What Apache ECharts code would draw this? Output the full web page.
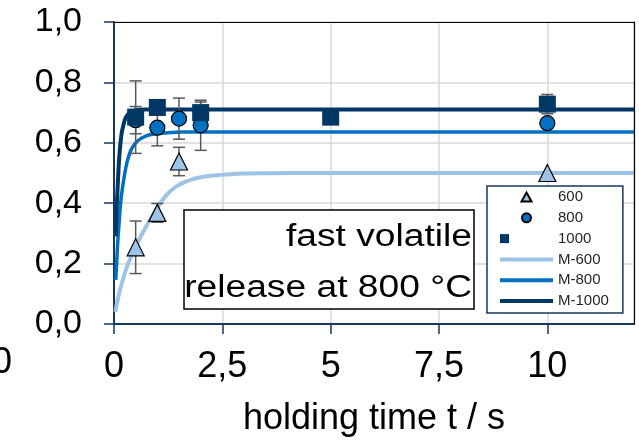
<!DOCTYPE html>
<html>
<head>
<meta charset="utf-8">
<script src="https://cdn.jsdelivr.net/npm/echarts@6/dist/echarts.min.js"></script>
<style>
  html, body { margin: 0; padding: 0; background: #fff; }
  #chart { width: 639px; height: 442px; }
</style>
</head>
<body>
<div id="chart"></div>
<script>
// Measured volatile release vs. holding time, per temperature (°C)
const t600 = [0.5, 1, 1.5, 10];
const v600 = [0.254, 0.368, 0.538, 0.50];
const e600 = [0.087, 0.031, 0.047, 0];

const t800 = [0.5, 1, 1.5, 2, 10];
const v800 = [0.675, 0.65, 0.68, 0.658, 0.665];
const e800 = [0.045, 0.06, 0.068, 0.083, 0];

const t1000 = [0.5, 1, 2, 5, 10];
const v1000 = [0.685, 0.717, 0.70, 0.685, 0.728];
const e1000 = [0.12, 0, 0.035, 0, 0.032];

// Model curves (M-600, M-800, M-1000)
const mt600 = [0.03, 0.1, 0.2, 0.3, 0.4, 0.5, 0.6, 0.7, 0.8, 0.9, 1.0, 1.2, 1.4, 1.6, 1.8, 2.0, 2.3, 2.6, 3.0, 3.5, 4.0, 12];
const mv600 = [0.04, 0.09, 0.145, 0.19, 0.225, 0.255, 0.285, 0.312, 0.338, 0.362, 0.385, 0.425, 0.452, 0.468, 0.479, 0.486, 0.492, 0.495, 0.498, 0.499, 0.5, 0.5];

const mt800 = [0.04, 0.06, 0.08, 0.1, 0.13, 0.16, 0.2, 0.25, 0.3, 0.35, 0.4, 0.5, 0.6, 0.7, 0.8, 1.0, 1.3, 1.6, 12];
const mv800 = [0.146, 0.2, 0.255, 0.3, 0.36, 0.41, 0.455, 0.5, 0.535, 0.56, 0.578, 0.6, 0.612, 0.62, 0.626, 0.631, 0.634, 0.636, 0.636];

const mt1000 = [0.04, 0.05, 0.06, 0.08, 0.1, 0.12, 0.15, 0.18, 0.22, 0.26, 0.3, 0.35, 0.4, 0.5, 0.7, 12];
const mv1000 = [0.29, 0.34, 0.38, 0.44, 0.5, 0.55, 0.6, 0.635, 0.66, 0.68, 0.69, 0.698, 0.703, 0.708, 0.71, 0.71];

// Axis tick labels (decimal comma)
const xTickValues = [0, 2.5, 5, 7.5, 10];
const xTickLabels = ['0', '2,5', '5', '7,5', '10'];
const yTickValues = [0, 0.2, 0.4, 0.6, 0.8, 1.0];
const yTickLabels = ['0,0', '0,2', '0,4', '0,6', '0,8', '1,0'];

const FONT = "'Liberation Sans', Arial, sans-serif";
const C600 = '#9DC3E6';
const C800 = '#0070C0';
const C1000 = '#003764';
const AXIS = '#17375E';
const LINE_ICON = 'path://M0,0L53,0L53,4L0,4Z';
const TRI_ICON = 'path://M5,0L10,9L0,9Z';

function pairs(xs, ys) { return xs.map((x, i) => [x, ys[i]]); }

function labelFor(values, labels) {
  return function (v) {
    const i = values.findIndex(t => Math.abs(t - v) < 1e-9);
    return i >= 0 ? labels[i] : '';
  };
}

// Whiskers drawn as vertical bars with caps
function errorSeries(ts, vs, es) {
  const data = [];
  ts.forEach((t, i) => { if (es[i] > 0) data.push([t, vs[i] - es[i], vs[i] + es[i]]); });
  return {
    type: 'custom', z: 3, silent: true, clip: false,
    data: data,
    encode: { x: 0, y: [1, 2] },
    renderItem: function (params, api) {
      const lo = api.coord([api.value(0), api.value(1)]);
      const hi = api.coord([api.value(0), api.value(2)]);
      const hw = 6;
      const style = { stroke: '#595959', lineWidth: 1.5, fill: null };
      return {
        type: 'group',
        children: [
          { type: 'line', shape: { x1: lo[0], y1: lo[1], x2: hi[0], y2: hi[1] }, style: style },
          { type: 'line', shape: { x1: lo[0] - hw, y1: lo[1], x2: lo[0] + hw, y2: lo[1] }, style: style },
          { type: 'line', shape: { x1: hi[0] - hw, y1: hi[1], x2: hi[0] + hw, y2: hi[1] }, style: style }
        ]
      };
    }
  };
}

function modelSeries(name, xs, ys, color, width) {
  return {
    name: name, type: 'line', z: 2, symbol: 'none', showSymbol: false,
    smooth: 0.3,
    data: pairs(xs, ys),
    lineStyle: { color: color, width: width },
    itemStyle: { color: color }
  };
}

const chart = echarts.init(document.getElementById('chart'));
chart.setOption({
  animation: false,
  backgroundColor: '#fff',
  textStyle: { fontFamily: FONT },
  grid: { left: 114, top: 22, width: 520, height: 306, containLabel: false },
  xAxis: [{
    type: 'value', min: 0, max: 12, interval: 2.5,
    name: 'holding time t / s', nameLocation: 'middle', nameGap: 77,
    nameTextStyle: { fontFamily: FONT, fontSize: 36, color: '#000' },
    axisLine: { show: true, onZero: false, lineStyle: { color: AXIS, width: 2 } },
    axisTick: { show: true, inside: false, length: 10, lineStyle: { color: AXIS, width: 1.5 } },
    axisLabel: { fontFamily: FONT, fontSize: 36, color: '#000', margin: 25, showMaxLabel: false,
                 formatter: labelFor(xTickValues, xTickLabels) },
    splitLine: { show: true, lineStyle: { color: '#D9D9D9', width: 1.5 } }
  }, {
    type: 'value', min: 0, max: 12, position: 'top', z: 5,
    axisLine: { show: true, onZero: false, lineStyle: { color: '#000', width: 1.2 } },
    axisTick: { show: false }, axisLabel: { show: false }, splitLine: { show: false }
  }],
  yAxis: [{
    type: 'value', min: 0, max: 1, interval: 0.2,
    axisLine: { show: true, onZero: false, lineStyle: { color: AXIS, width: 2 } },
    axisTick: { show: true, inside: false, length: 10, lineStyle: { color: AXIS, width: 1.5 } },
    axisLabel: { fontFamily: FONT, fontSize: 34, color: '#000', margin: 32,
                 formatter: labelFor(yTickValues, yTickLabels) },
    splitLine: { show: true, lineStyle: { color: '#D9D9D9', width: 1.5 } }
  }, {
    type: 'value', min: 0, max: 1, position: 'right', z: 5,
    axisLine: { show: true, onZero: false, lineStyle: { color: '#000', width: 1.2 } },
    axisTick: { show: false }, axisLabel: { show: false }, splitLine: { show: false }
  }],
  legend: {
    orient: 'vertical', left: 487, top: 186,
    padding: [3, 14, 4, 13],
    itemWidth: 53, itemHeight: 9, itemGap: 4.8,
    symbolKeepAspect: true,
    backgroundColor: '#fff', borderColor: AXIS, borderWidth: 1.5,
    textStyle: { fontFamily: FONT, fontSize: 15, color: '#262626', lineHeight: 16 },
    data: [
      { name: '600', icon: TRI_ICON }, { name: '800' }, { name: '1000' },
      { name: 'M-600', icon: LINE_ICON },
      { name: 'M-800', icon: LINE_ICON },
      { name: 'M-1000', icon: LINE_ICON }
    ]
  },
  graphic: [
    {
      type: 'rect', z: 10,
      shape: { x: 184, y: 210, width: 290, height: 99 },
      style: { fill: '#fff', stroke: '#000', lineWidth: 1.5 }
    },
    {
      type: 'text', z: 11, x: 472, y: 237, scaleX: 1.2,
      style: { text: 'fast volatile', fontFamily: FONT, fontSize: 31, fill: '#000',
               align: 'right', verticalAlign: 'middle' }
    },
    {
      type: 'text', z: 11, x: 472, y: 288, scaleX: 1.2,
      style: { text: 'release at 800 °C', fontFamily: FONT, fontSize: 31, fill: '#000',
               align: 'right', verticalAlign: 'middle' }
    },
    {
      type: 'text', z: 11, x: 12, y: 363,
      style: { text: '0', fontFamily: FONT, fontSize: 36, fill: '#000',
               align: 'right', verticalAlign: 'middle' }
    }
  ],
  series: [
    modelSeries('M-600', mt600, mv600, C600, 4),
    modelSeries('M-800', mt800, mv800, C800, 3.5),
    modelSeries('M-1000', mt1000, mv1000, C1000, 4),
    errorSeries(t600, v600, e600),
    errorSeries(t800, v800, e800),
    errorSeries(t1000, v1000, e1000),
    {
      name: '600', type: 'scatter', z: 4, symbol: 'triangle', symbolSize: 17,
      data: pairs(t600, v600),
      itemStyle: { color: C600, borderColor: '#000', borderWidth: 1.2, opacity: 1 }
    },
    {
      name: '800', type: 'scatter', z: 4, symbol: 'circle', symbolSize: 15,
      data: pairs(t800, v800),
      itemStyle: { color: C800, borderColor: '#000', borderWidth: 1.2, opacity: 1 }
    },
    {
      name: '1000', type: 'scatter', z: 4, symbol: 'square', symbolSize: 17,
      data: pairs(t1000, v1000),
      itemStyle: { color: C1000, opacity: 1 }
    }
  ]
});
</script>
</body>
</html>
